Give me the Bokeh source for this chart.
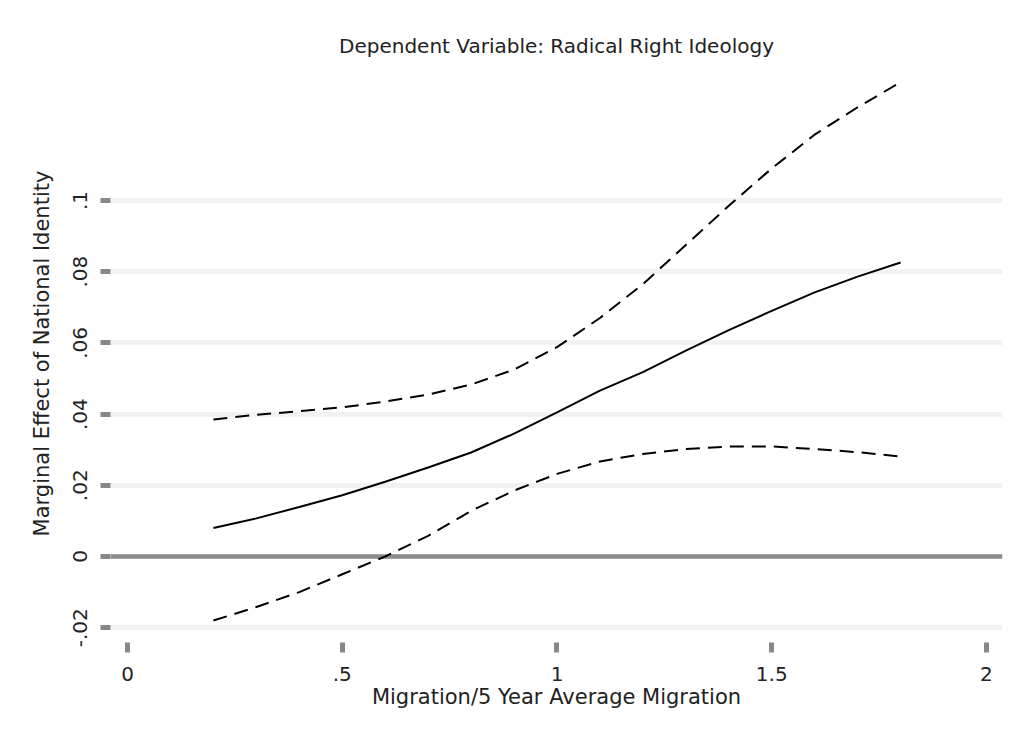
from bokeh.plotting import figure
from bokeh.models import Range1d, FixedTicker, Span
from bokeh.embed import file_html
from bokeh.resources import INLINE

# ---- data ----
migration = [0.2, 0.3, 0.4, 0.5, 0.6, 0.7, 0.8, 0.9, 1.0, 1.1, 1.2, 1.3, 1.4, 1.5, 1.6, 1.7, 1.8]
marginal_effect = [0.0080, 0.0107, 0.0139, 0.0172, 0.0210, 0.0250, 0.0292, 0.0345, 0.0405,
                   0.0466, 0.0518, 0.0578, 0.0636, 0.0690, 0.0742, 0.0786, 0.0826]
upper_ci = [0.0385, 0.0398, 0.0408, 0.0419, 0.0435, 0.0455, 0.0483, 0.0525, 0.0588,
            0.0670, 0.0765, 0.0875, 0.0985, 0.1090, 0.1185, 0.1262, 0.1332]
lower_ci = [-0.0180, -0.0142, -0.0100, -0.0050, 0.0000, 0.0058, 0.0128, 0.0185, 0.0232,
            0.0267, 0.0288, 0.0302, 0.0309, 0.0309, 0.0302, 0.0293, 0.0281]

x_ticks = [0, 0.5, 1, 1.5, 2]
x_tick_labels = ["0", ".5", "1", "1.5", "2"]
y_ticks = [-0.02, 0, 0.02, 0.04, 0.06, 0.08, 0.1]
y_tick_labels = ["-.02", "0", ".02", ".04", ".06", ".08", ".1"]
reference_line = 0

title_text = "Dependent Variable: Radical Right Ideology"
x_label = "Migration/5 Year Average Migration"
y_label = "Marginal Effect of National Identity"

FONT = "DejaVu Sans"
TEXT_COLOR = "#222222"
TICK_COLOR = "#888888"

p = figure(width=1010, height=738,
           x_range=Range1d(-0.0396, 2.0373), y_range=Range1d(-0.02416, 0.1382),
           output_backend="svg", toolbar_location=None,
           min_border_left=110, min_border_right=8, min_border_top=64, min_border_bottom=96)

p.background_fill_color = "white"
p.border_fill_color = "white"
p.outline_line_color = None

# title
p.title.text = title_text
p.title.align = "center"
p.title.text_font = FONT
p.title.text_font_size = "20px"
p.title.text_font_style = "normal"
p.title.text_color = TEXT_COLOR
p.title.standoff = 13

# grids
p.xgrid.visible = False
p.ygrid.ticker = FixedTicker(ticks=y_ticks)
p.ygrid.grid_line_color = "#f2f2f2"
p.ygrid.grid_line_width = 5

# axes
p.xaxis.ticker = FixedTicker(ticks=x_ticks)
p.xaxis.major_label_overrides = dict(zip(x_ticks, x_tick_labels))
p.yaxis.ticker = FixedTicker(ticks=y_ticks)
p.yaxis.major_label_overrides = dict(zip(y_ticks, y_tick_labels))
p.yaxis.major_label_orientation = "vertical"

for ax in (p.xaxis[0], p.yaxis[0]):
    ax.axis_line_color = None
    ax.minor_tick_line_color = None
    ax.major_tick_line_color = TICK_COLOR
    ax.major_tick_line_width = 5
    ax.major_tick_in = 0
    ax.major_tick_out = 10
    ax.major_label_text_font = FONT
    ax.major_label_text_font_size = "20px"
    ax.major_label_text_color = TEXT_COLOR
    ax.axis_label_text_font = FONT
    ax.axis_label_text_font_size = "21px"
    ax.axis_label_text_font_style = "normal"
    ax.axis_label_text_color = TEXT_COLOR

p.xaxis.axis_label = x_label
p.yaxis.axis_label = y_label
p.xaxis.major_label_standoff = 14
p.xaxis.axis_label_standoff = 1
p.yaxis.major_label_standoff = 13
p.yaxis.axis_label_standoff = 17

zero = Span(location=reference_line, dimension="width", line_color="#8c8c8c", line_width=4.5,
            level="underlay")
p.add_layout(zero)

p.line(migration, upper_ci, line_color="black", line_width=2, line_dash="14 8")
p.line(migration, marginal_effect, line_color="black", line_width=2)
p.line(migration, lower_ci, line_color="black", line_width=2, line_dash="14 8")

open("out.html", "w").write(file_html(p, INLINE))
